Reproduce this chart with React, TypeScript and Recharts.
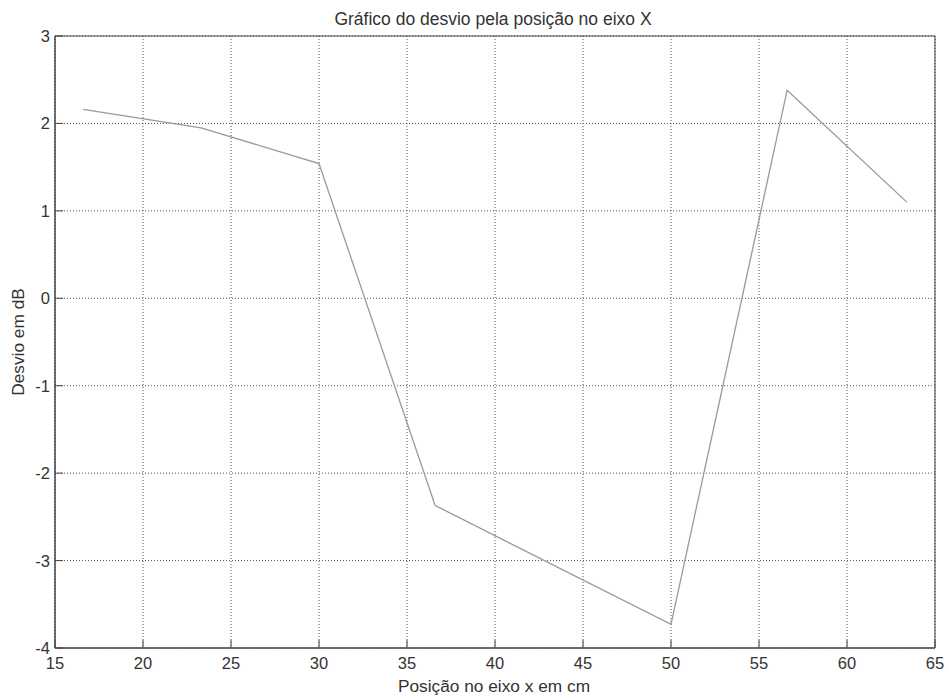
import { LineChart, Line, XAxis, YAxis, CartesianGrid, ReferenceArea } from 'recharts';

// posição (cm) e desvio (dB)
const posicoes = [16.6, 23.3, 30, 36.6, 50, 56.6, 63.4];
const desvios = [2.16, 1.95, 1.54, -2.37, -3.73, 2.38, 1.1];

const xTicks = [15, 20, 25, 30, 35, 40, 45, 50, 55, 60, 65];
const yTicks = [-4, -3, -2, -1, 0, 1, 2, 3];

const data = posicoes.map((x, i) => ({ x, y: desvios[i] }));

const FONT = 'Liberation Sans, Arial, sans-serif';

const XTick = (props: any) => {
  const { x, y, payload } = props;
  return (
    <g>
      <line x1={x} x2={x} y1={y - 8} y2={y - 16} stroke="#444" />
      <text x={x} y={y + 13} textAnchor="middle" fontSize={16.5} fill="#333" fontFamily={FONT}>
        {payload.value}
      </text>
    </g>
  );
};

const YTick = (props: any) => {
  const { x, y, payload } = props;
  return (
    <g>
      <line x1={x + 5} x2={x + 13} y1={y} y2={y} stroke="#444" />
      <text x={x} y={y + 6} textAnchor="end" fontSize={16.5} fill="#333" fontFamily={FONT}>
        {payload.value}
      </text>
    </g>
  );
};

export default function App() {
  return (
    <div style={{ position: 'absolute', left: 0, top: 0, background: '#fff' }}>
      <LineChart width={949} height={699} data={data} margin={{ top: 36, right: 14, left: 0, bottom: 0 }}>
        <CartesianGrid stroke="#555" strokeDasharray="1 2" />
        <XAxis
          dataKey="x"
          type="number"
          domain={[15, 65]}
          ticks={xTicks}
          height={51}
          tickSize={0}
          tickMargin={8}
          tickLine={false}
          axisLine={{ stroke: '#444' }}
          tick={<XTick />}
          interval={0}
        />
        <YAxis
          type="number"
          domain={[-4, 3]}
          ticks={yTicks}
          width={55}
          tickSize={0}
          tickMargin={5}
          tickLine={false}
          axisLine={{ stroke: '#444' }}
          tick={<YTick />}
          interval={0}
        />
        <ReferenceArea x1={15} x2={65} y1={-4} y2={3} fill="none" stroke="#444" strokeWidth={1} />
        <Line
          type="linear"
          dataKey="y"
          stroke="#999"
          strokeWidth={1.3}
          dot={false}
          isAnimationActive={false}
        />
        <text x={493} y={25} textAnchor="middle" fontSize={17.5} fill="#333" fontFamily={FONT}>
          Gráfico do desvio pela posição no eixo X
        </text>
        <text x={494} y={692} textAnchor="middle" fontSize={17.3} fill="#333" fontFamily={FONT}>
          Posição no eixo x em cm
        </text>
        <text
          x={24}
          y={342}
          textAnchor="middle"
          fontSize={17.3}
          fill="#333"
          fontFamily={FONT}
          transform="rotate(-90 24 342)"
        >
          Desvio em dB
        </text>
      </LineChart>
    </div>
  );
}
